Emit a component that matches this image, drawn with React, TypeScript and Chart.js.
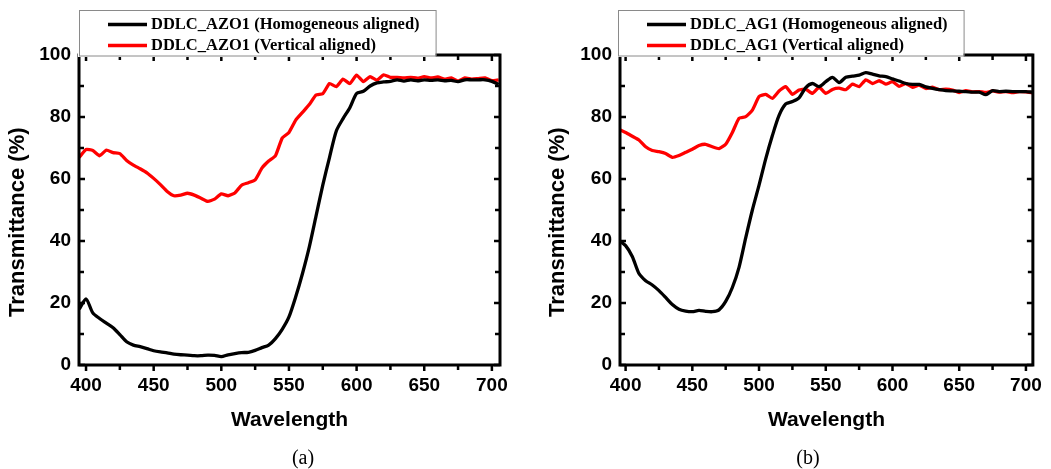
import React, { useEffect, useRef } from "react";
import { Chart, registerables } from "chart.js";

Chart.register(...registerables);

// ---------- data ----------
const wavelengths = [
  395, 400, 405, 410, 415, 420, 425, 430, 435, 440, 445, 450, 455, 460, 465, 470,
  475, 480, 485, 490, 495, 500, 505, 510, 515, 520, 525, 530, 535, 540, 545, 550,
  555, 560, 565, 570, 575, 580, 585, 590, 595, 600, 605, 610, 615, 620, 625, 630,
  635, 640, 645, 650, 655, 660, 665, 670, 675, 680, 685, 690, 695, 700, 705,
];

const azoHomogeneous = [
  18, 21.3, 16.8, 15, 13.5, 12, 9.8, 7.5, 6.4, 5.9, 5.3, 4.6, 4.2, 3.9, 3.5, 3.3,
  3.2, 3.0, 3.0, 3.2, 3.1, 2.7, 3.3, 3.7, 4.0, 4.1, 4.7, 5.6, 6.4, 8.5, 11.5, 15.5,
  22, 29.5, 38, 48, 58, 67, 75.5, 79.5, 83, 87.6, 88.3, 90, 91, 91.3, 91.5, 92,
  91.6, 92, 91.7, 92, 91.8, 92, 91.7, 91.8, 91.4, 92, 92, 92, 92, 91.5, 90.5,
];

const azoVertical = [
  67, 69.5, 69.2, 67.5, 69.3, 68.5, 68.2, 66, 64.5, 63.3, 62, 60.2, 58.2, 56, 54.6, 54.8,
  55.4, 54.8, 53.8, 52.8, 53.5, 55.2, 54.6, 55.5, 58, 58.8, 59.7, 63.5, 65.8, 67.5, 73.2, 75,
  79, 81.5, 84, 87.1, 87.5, 90.8, 89.8, 92.2, 90.8, 93.5, 91.4, 93, 91.9, 93.6, 92.8, 92.8,
  92.6, 92.8, 92.5, 93, 92.6, 92.9, 92.2, 92.6, 91.6, 92.6, 92.2, 92.4, 92.6, 91.7, 92,
];

const agHomogeneous = [
  40.2, 38.5, 35, 29.5, 27.2, 25.8, 24, 21.8, 19.5, 18, 17.4, 17.2, 17.6, 17.3, 17.2, 17.8,
  20.5, 25, 31.5, 41, 50, 58, 66.5, 74, 80.5, 84.2, 85, 86.2, 89.5, 90.8, 89.8, 91.4,
  92.8, 91.1, 92.8, 93.2, 93.5, 94.3, 93.8, 93.3, 93, 92.3, 91.6, 90.8, 90.5, 90.5, 89.7, 89.2,
  88.8, 88.5, 88.4, 88.3, 88.2, 88, 88, 87.2, 88.5, 88.2, 88.3, 88.2, 88.2, 88.2, 88,
];

const agVertical = [
  76, 75, 73.8, 72.6, 70.4, 69.2, 68.8, 68.2, 67, 67.6, 68.6, 69.6, 70.8, 71.2, 70.4, 69.8,
  71.2, 75, 79.6, 80.1, 82.2, 86.6, 87.3, 86, 88.4, 89.8, 87.3, 88.7, 89, 87.6, 89.6, 87.6,
  88.9, 89.3, 88.8, 90.6, 89.8, 92, 90.8, 91.7, 90.6, 91.4, 89.9, 90.8, 89.6, 90.3, 89.2, 89.6,
  88.8, 89, 88.7, 87.9, 88.5, 88.1, 88.2, 87.9, 88.4, 88, 88.2, 87.9, 88.2, 88.1, 87.8,
];

const xTickValues = [400, 450, 500, 550, 600, 650, 700];
const yTickValues = [0, 20, 40, 60, 80, 100];

const legendAZO = ["DDLC_AZO1 (Homogeneous aligned)", "DDLC_AZO1 (Vertical aligned)"];
const legendAG = ["DDLC_AG1 (Homogeneous aligned)", "DDLC_AG1 (Vertical aligned)"];
const captions = ["(a)", "(b)"];
const xTitle = "Wavelength";
const yTitle = "Transmittance (%)";

// ---------- drawing helpers ----------
const SANS = "'Liberation Sans', Arial, sans-serif";
const SERIF = "'Liberation Serif', 'Times New Roman', serif";

const framePlugin = {
  id: "frameAndLegend",
  afterDatasetsDraw(chart: any, _args: any, opts: any) {
    const { ctx, chartArea: a } = chart;
    const x = chart.scales.x;
    const y = chart.scales.y;
    ctx.save();
    ctx.strokeStyle = "#000";
    ctx.lineCap = "butt";
    ctx.lineWidth = 2.5;
    for (let v = 400; v <= 700; v += 25) {
      const px = x.getPixelForValue(v);
      const len = v % 50 === 0 ? 6 : 5;
      ctx.beginPath();
      ctx.moveTo(px, a.top);
      ctx.lineTo(px, a.top + len);
      ctx.moveTo(px, a.bottom);
      ctx.lineTo(px, a.bottom + len);
      ctx.stroke();
    }
    for (let v = 0; v <= 100; v += 10) {
      const py = y.getPixelForValue(v);
      const len = v % 20 === 0 ? 6 : 5;
      ctx.beginPath();
      ctx.moveTo(a.left, py);
      ctx.lineTo(a.left + len, py);
      ctx.moveTo(a.right, py);
      ctx.lineTo(a.right - len, py);
      ctx.stroke();
    }
    ctx.lineWidth = 3;
    ctx.strokeRect(a.left, a.top, a.right - a.left, a.bottom - a.top);

    // legend box
    const ds = chart.data.datasets;
    ctx.font = `bold 16.5px ${SERIF}`;
    let maxW = 0;
    ds.forEach((d: any) => {
      maxW = Math.max(maxW, ctx.measureText(d.label).width);
    });
    const boxL = a.left + opts.boxDx;
    const boxT = 10;
    const boxB = a.top + 0.5;
    const lineL = boxL + 29;
    const lineR = lineL + 39;
    const textL = lineR + 4;
    const boxR = textL + maxW + 16;
    ctx.fillStyle = "#fff";
    ctx.fillRect(boxL - 1, boxT, boxR - boxL + 1, boxB - boxT + 1.5);
    ctx.lineWidth = 1;
    ctx.strokeStyle = "#8a8a8a";
    ctx.strokeRect(boxL + 0.5, boxT + 0.5, boxR - boxL, boxB - boxT);
    const rows = [25, 46];
    ds.forEach((d: any, i: number) => {
      ctx.strokeStyle = d.borderColor;
      ctx.lineWidth = 3.5;
      ctx.beginPath();
      ctx.moveTo(lineL, rows[i] - 0.5);
      ctx.lineTo(lineR, rows[i] - 0.5);
      ctx.stroke();
      ctx.fillStyle = "#000";
      ctx.textBaseline = "middle";
      ctx.textAlign = "left";
      ctx.fillText(d.label, textL, rows[i]);
    });
    ctx.restore();
  },
};

type PanelProps = {
  left: number;
  width: number;
  yAxisWidth: number;
  padRight: number;
  xMin: number;
  xMax: number;
  yTitlePad: number;
  boxDx: number;
  labels: string[];
  homo: number[];
  vert: number[];
};

function Panel(p: PanelProps) {
  const ref = useRef<HTMLCanvasElement | null>(null);
  useEffect(() => {
    if (!ref.current) return;
    const chart = new Chart(ref.current, {
      type: "line",
      data: {
        datasets: [
          {
            label: p.labels[0],
            data: wavelengths.map((w, i) => ({ x: w, y: p.homo[i] })),
            borderColor: "#000000",
            borderWidth: 3.3,
            pointRadius: 0,
            tension: 0.25,
          },
          {
            label: p.labels[1],
            data: wavelengths.map((w, i) => ({ x: w, y: p.vert[i] })),
            borderColor: "#ff0000",
            borderWidth: 3.3,
            pointRadius: 0,
            tension: 0.15,
          },
        ],
      },
      options: {
        animation: false,
        responsive: false,
        events: [],
        layout: { padding: { left: 0, right: p.padRight, top: 55, bottom: 0 } },
        plugins: {
          legend: { display: false },
          tooltip: { enabled: false },
          frameAndLegend: { boxDx: p.boxDx },
        } as any,
        scales: {
          x: {
            type: "linear",
            min: p.xMin,
            max: p.xMax,
            grid: { display: false, drawTicks: false },
            border: { display: false },
            afterBuildTicks: (s: any) => {
              s.ticks = xTickValues.map((v) => ({ value: v }));
            },
            afterFit: (s: any) => {
              s.height = 104;
            },
            ticks: {
              color: "#000",
              padding: 9,
              maxRotation: 0,
              autoSkip: false,
              font: { family: SANS, weight: "bold", size: 19 },
            },
            title: {
              display: true,
              text: xTitle,
              color: "#000",
              font: { family: SANS, weight: "bold", size: 21 },
              padding: { top: 0, bottom: 36 },
            },
          },
          y: {
            type: "linear",
            min: 0,
            max: 100,
            grid: { display: false, drawTicks: false },
            border: { display: false },
            afterBuildTicks: (s: any) => {
              s.ticks = yTickValues.map((v) => ({ value: v }));
            },
            afterFit: (s: any) => {
              s.width = p.yAxisWidth;
            },
            ticks: {
              color: "#000",
              padding: 8,
              font: { family: SANS, weight: "bold", size: 19 },
            },
            title: {
              display: true,
              text: yTitle + "    ",
              color: "#000",
              font: { family: SANS, weight: "bold", size: 22 },
              padding: { top: p.yTitlePad, bottom: 0 },
            },
          },
        },
      } as any,
      plugins: [framePlugin as any],
    });
    return () => chart.destroy();
  }, []);
  return (
    <canvas
      ref={ref}
      width={p.width}
      height={469}
      style={{ position: "absolute", left: p.left, top: 0, width: p.width, height: 469 }}
    />
  );
}

const captionStyle = (cx: number): React.CSSProperties => ({
  position: "absolute",
  left: cx - 30,
  top: 445,
  width: 60,
  textAlign: "center",
  fontFamily: SERIF,
  fontSize: 20,
  lineHeight: "24px",
  color: "#000",
});

export default function App() {
  return (
    <div
      style={{
        position: "absolute",
        left: 0,
        top: 0,
        width: 1051,
        height: 469,
        background: "#fff",
        overflow: "hidden",
      }}
    >
      <Panel
        left={0}
        width={525}
        yAxisWidth={79}
        padRight={25}
        xMin={394.8}
        xMax={706}
        yTitlePad={5}
        boxDx={0}
        labels={legendAZO}
        homo={azoHomogeneous}
        vert={azoVertical}
      />
      <Panel
        left={525}
        width={526}
        yAxisWidth={95}
        padRight={13}
        xMin={395.8}
        xMax={705.2}
        yTitlePad={20}
        boxDx={-2}
        labels={legendAG}
        homo={agHomogeneous}
        vert={agVertical}
      />
      <div style={captionStyle(303)}>{captions[0]}</div>
      <div style={captionStyle(808)}>{captions[1]}</div>
    </div>
  );
}
